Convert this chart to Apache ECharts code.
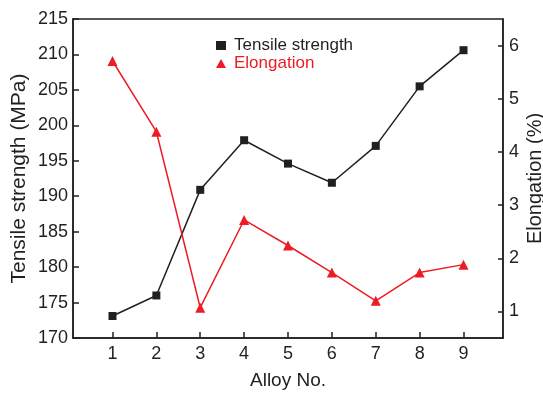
<!DOCTYPE html>
<html><head><meta charset="utf-8">
<script src="https://cdn.jsdelivr.net/npm/echarts@6/dist/echarts.min.js"></script>
<style>html,body{margin:0;padding:0;background:#fff}#c{width:543px;height:393px}</style>
</head><body><div id="c"></div>
<script>
const alloys = [1, 2, 3, 4, 5, 6, 7, 8, 9];
const tensileStrength = [173.1, 176.0, 190.9, 197.9, 194.6, 191.9, 197.1, 205.5, 210.6];
const elongation = [5.71, 4.38, 1.07, 2.72, 2.24, 1.73, 1.20, 1.73, 1.88];
const leftTicks = [170, 175, 180, 185, 190, 195, 200, 205, 210, 215];
const rightTicks = [1, 2, 3, 4, 5, 6];
const xTicks = [1, 2, 3, 4, 5, 6, 7, 8, 9];

const FONT = 'Liberation Sans';
const BLACK = '#231f20';
const RED = '#ed1c24';
const chart = echarts.init(document.getElementById('c'), null, {renderer: 'canvas'});
chart.setOption({
  animation: false,
  backgroundColor: '#fff',
  grid: {left: 73, right: 40, top: 19, bottom: 55, show: true, borderColor: BLACK, borderWidth: 1.5,
         backgroundColor: 'transparent', containLabel: false, outerBoundsMode: 'none'},
  legend: {
    orient: 'vertical', left: 211, top: 32, itemGap: 1, itemWidth: 10, itemHeight: 9,
    textStyle: {fontFamily: FONT, fontSize: 17, color: BLACK, padding: [0, 0, 0, 3]},
    data: [
      {name: 'Tensile strength', icon: 'rect', itemStyle: {color: BLACK}},
      {name: 'Elongation', icon: 'triangle', textStyle: {color: RED, padding: [0, 0, 0, 3]}, itemStyle: {color: RED}}
    ]
  },
  xAxis: {
    type: 'value', min: 0.1, max: 9.9,
    name: 'Alloy No.', nameLocation: 'middle', nameGap: 33, nameMoveOverlap: false,
    nameTextStyle: {fontFamily: FONT, fontSize: 19, color: BLACK},
    axisLine: {lineStyle: {color: BLACK, width: 1.5}},
    axisTick: {inside: true, length: 6, lineStyle: {color: BLACK, width: 1.5}, customValues: xTicks},
    axisLabel: {fontFamily: FONT, fontSize: 18, color: BLACK, margin: 7, customValues: xTicks},
    splitLine: {show: false}
  },
  yAxis: [
    {
      type: 'value', min: 170, max: 215, interval: 5, position: 'left',
      name: 'Tensile strength (MPa)', nameLocation: 'middle', nameGap: 43, nameMoveOverlap: false,
      nameTextStyle: {fontFamily: FONT, fontSize: 21, color: BLACK},
      axisLine: {show: true, lineStyle: {color: BLACK, width: 1.5}},
      axisTick: {show: true, inside: true, length: 6, lineStyle: {color: BLACK, width: 1.5}, customValues: leftTicks},
      axisLabel: {fontFamily: FONT, fontSize: 18, color: BLACK, margin: 5, customValues: leftTicks},
      splitLine: {show: false}
    },
    {
      type: 'value', min: 0.5, max: 6.5, position: 'right',
      name: 'Elongation (%)', nameLocation: 'middle', nameGap: 22, nameMoveOverlap: false,
      nameTextStyle: {fontFamily: FONT, fontSize: 20, color: BLACK},
      axisLine: {show: true, lineStyle: {color: BLACK, width: 1.5}},
      axisTick: {show: true, inside: true, length: 5, lineStyle: {color: BLACK, width: 1.5}, customValues: rightTicks},
      axisLabel: {fontFamily: FONT, fontSize: 18, color: BLACK, margin: 6, customValues: rightTicks},
      splitLine: {show: false}
    }
  ],
  series: [
    {
      name: 'Tensile strength', type: 'line', yAxisIndex: 0,
      data: alloys.map((a, i) => [a, tensileStrength[i]]),
      symbol: 'rect', symbolSize: 8,
      lineStyle: {color: BLACK, width: 1.5}, itemStyle: {color: BLACK}
    },
    {
      name: 'Elongation', type: 'line', yAxisIndex: 1,
      data: alloys.map((a, i) => [a, elongation[i]]),
      symbol: 'triangle', symbolSize: 10,
      lineStyle: {color: RED, width: 1.5}, itemStyle: {color: RED}
    }
  ]
});
</script></body></html>
